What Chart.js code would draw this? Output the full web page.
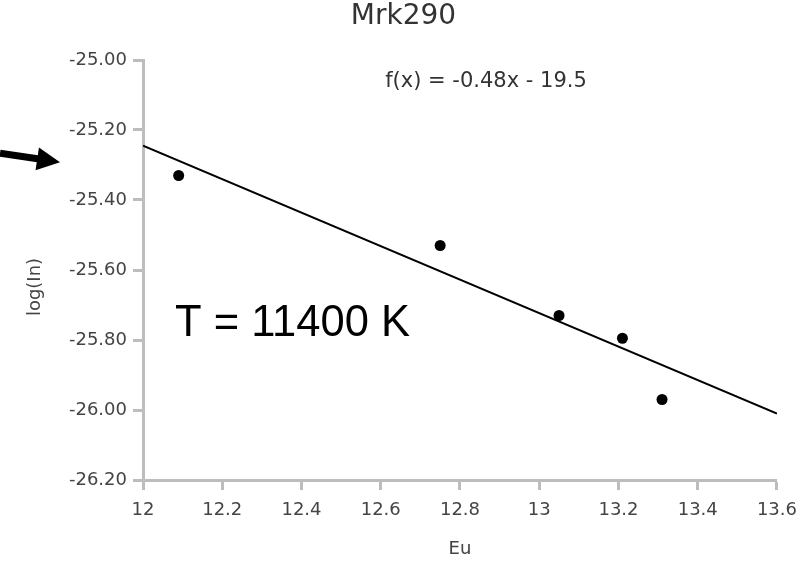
<!DOCTYPE html>
<html>
<head>
<meta charset="utf-8">
<script src="https://cdn.jsdelivr.net/npm/chart.js@4.4.0/dist/chart.umd.min.js"></script>
<style>
  html, body { margin: 0; padding: 0; background: #fff; }
  #wrap { width: 807px; height: 563px; }
</style>
</head>
<body>
<div id="wrap"><canvas id="chart" width="807" height="563"></canvas></div>
<script>
// === DATA ===
const eu = [12.09, 12.75, 13.05, 13.21, 13.31];
const logIn = [-25.33, -25.53, -25.73, -25.795, -25.97];

const fitX = [12, 13.6];
const fitY = [-25.245, -26.01];

const xTickValues = [12, 12.2, 12.4, 12.6, 12.8, 13, 13.2, 13.4, 13.6];
const xTickLabels = ["12", "12.2", "12.4", "12.6", "12.8", "13", "13.2", "13.4", "13.6"];
const yTickValues = [-25, -25.2, -25.4, -25.6, -25.8, -26, -26.2];
const yTickLabels = ["-25.00", "-25.20", "-25.40", "-25.60", "-25.80", "-26.00", "-26.20"];

const yTitle = "log(In)";
const fitLabel = "f(x) = -0.48x - 19.5";
const tempLabel = "T = 11400 K";

const FONT = "DejaVu Sans";
const AXIS_GREY = "#bdbdbd";
const TEXT_GREY = "#444";

// === ANNOTATIONS (y title, equation, temperature, arrow) ===
const annotations = {
  id: "annotations",
  afterDraw(chart) {
    const { ctx, chartArea, scales } = chart;
    ctx.save();

    // y axis title, sits a little below the middle of the axis
    ctx.save();
    ctx.translate(35, (chartArea.top + chartArea.bottom) / 2 + 17);
    ctx.rotate(-Math.PI / 2);
    ctx.fillStyle = TEXT_GREY;
    ctx.font = "18px '" + FONT + "'";
    ctx.textAlign = "center";
    ctx.textBaseline = "middle";
    ctx.fillText(yTitle, 0, 0);
    ctx.restore();

    ctx.fillStyle = "#333";
    ctx.font = "21px '" + FONT + "'";
    ctx.textAlign = "center";
    ctx.textBaseline = "middle";
    ctx.fillText(fitLabel, chartArea.left + 343, chartArea.top + 22);

    ctx.fillStyle = "#000";
    ctx.font = "43.5px 'Liberation Sans'";
    ctx.textAlign = "left";
    ctx.fillText(tempLabel, chartArea.left + 32, chartArea.top + 264);

    // arrow pointing at start of fit line
    const tipX = chartArea.left - 83;
    const tipY = scales.y.getPixelForValue(-25.292);
    const tailX = 0, tailY = tipY - 9;
    const ang = Math.atan2(tipY - tailY, tipX - tailX);
    const headLen = 23, headW = 11.5;
    const bx = tipX - headLen * Math.cos(ang);
    const by = tipY - headLen * Math.sin(ang);
    ctx.strokeStyle = "#000";
    ctx.lineWidth = 7;
    ctx.beginPath();
    ctx.moveTo(tailX, tailY);
    ctx.lineTo(bx + 2 * Math.cos(ang), by + 2 * Math.sin(ang));
    ctx.stroke();
    ctx.fillStyle = "#000";
    ctx.beginPath();
    ctx.moveTo(tipX, tipY);
    ctx.lineTo(bx + headW * Math.sin(ang), by - headW * Math.cos(ang));
    ctx.lineTo(bx - headW * Math.sin(ang), by + headW * Math.cos(ang));
    ctx.closePath();
    ctx.fill();

    ctx.restore();
  }
};

// === CHART ===
const ctx = document.getElementById("chart").getContext("2d");
new Chart(ctx, {
  type: "scatter",
  data: {
    datasets: [
      {
        label: "fit",
        data: fitX.map((x, i) => ({ x: x, y: fitY[i] })),
        showLine: true,
        borderColor: "#000",
        borderWidth: 2,
        pointRadius: 0,
        fill: false
      },
      {
        label: "Mrk290",
        data: eu.map((x, i) => ({ x: x, y: logIn[i] })),
        backgroundColor: "#000",
        borderColor: "#000",
        pointRadius: 5.5,
        pointBorderWidth: 0
      }
    ]
  },
  options: {
    responsive: false,
    animation: false,
    layout: { padding: 0 },
    plugins: {
      legend: { display: false },
      tooltip: { enabled: false },
      title: {
        display: true,
        text: "Mrk290",
        color: "#333",
        font: { family: FONT, size: 28, weight: "normal" },
        padding: { top: 0, bottom: 26.4 }
      }
    },
    scales: {
      x: {
        type: "linear",
        min: 12,
        max: 13.6,
        afterBuildTicks: s => { s.ticks = xTickValues.map(v => ({ value: v })); },
        afterFit: s => { s.height = 83; },
        ticks: {
          callback: (v, i) => xTickLabels[i],
          color: TEXT_GREY,
          font: { family: FONT, size: 18 },
          padding: 10,
          maxRotation: 0,
          autoSkip: false
        },
        grid: {
          drawOnChartArea: false,
          tickLength: 10,
          tickWidth: 3,
          tickColor: AXIS_GREY
        },
        border: { color: AXIS_GREY, width: 3 },
        title: {
          display: true,
          text: "Eu",
          color: TEXT_GREY,
          font: { family: FONT, size: 18 },
          padding: { top: 4, bottom: 3 }
        }
      },
      y: {
        type: "linear",
        min: -26.2,
        max: -25,
        afterBuildTicks: s => { s.ticks = yTickValues.map(v => ({ value: v })); },
        afterFit: s => { s.width = 143; },
        ticks: {
          callback: (v, i) => yTickLabels[i],
          color: TEXT_GREY,
          font: { family: FONT, size: 18 },
          padding: 6,
          autoSkip: false
        },
        grid: {
          drawOnChartArea: false,
          tickLength: 10,
          tickWidth: 3,
          tickColor: AXIS_GREY
        },
        border: { color: AXIS_GREY, width: 3 }
      },
      // empty right margin so the full-width title centres on the page
      yRight: {
        type: "linear",
        position: "right",
        display: true,
        afterFit: s => { s.width = 27; },
        ticks: { display: false },
        grid: { display: false },
        border: { display: false }
      }
    }
  },
  plugins: [annotations]
});
</script>
</body>
</html>
